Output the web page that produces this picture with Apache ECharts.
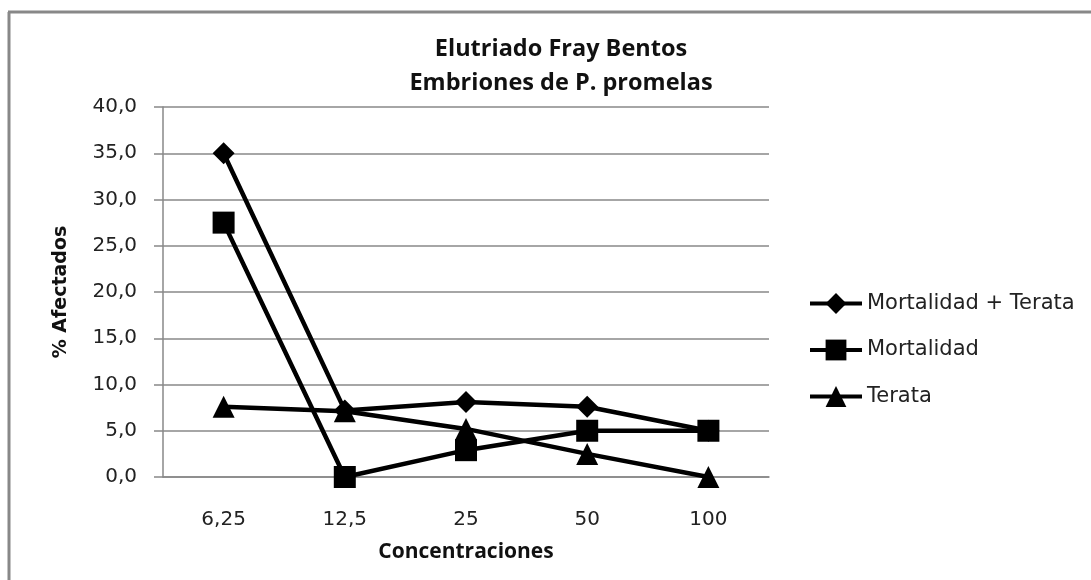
<!DOCTYPE html>
<html>
<head>
<meta charset="utf-8">
<script src="https://cdn.jsdelivr.net/npm/echarts@6/dist/echarts.min.js"></script>
<style>
  html, body { margin: 0; padding: 0; background: #fff; }
  #chart { width: 1091px; height: 580px; }
</style>
</head>
<body>
<div id="chart"></div>
<script>
// concentraciones del elutriado
const categories = ['6,25', '12,5', '25', '50', '100'];
const mortTerata = [35.0, 7.2, 8.1, 7.6, 5.0];
const mortalidad = [27.5, 0.0, 2.9, 5.0, 5.0];
const terata = [7.6, 7.1, 5.2, 2.5, 0.0];

const chart = echarts.init(document.getElementById('chart'));

const lbl = { fontFamily: 'DejaVu Sans', fontSize: 20, color: '#222' };

function serie(name, data, symbol, size) {
  return {
    name: name,
    type: 'line',
    data: data,
    symbol: symbol,
    symbolSize: size,
    color: '#000',
    lineStyle: { color: '#000', width: 4.5 },
    itemStyle: { color: '#000' },
    animation: false
  };
}

const option = {
  backgroundColor: '#fff',
  title: {
    text: 'Elutriado Fray Bentos\nEmbriones de P. promelas',
    left: 556,
    textAlign: 'center',
    top: 27,
    textStyle: {
      fontFamily: 'Open Sans', fontWeight: 'bold', fontSize: 23.5,
      lineHeight: 34, color: '#111'
    }
  },
  graphic: [
    { type: 'line', shape: { x1: 9, y1: 12, x2: 9, y2: 580 }, style: { stroke: '#888', lineWidth: 3 } },
    { type: 'line', shape: { x1: 8, y1: 12, x2: 1091, y2: 12 }, style: { stroke: '#888', lineWidth: 3 } }
  ],
  legend: {
    orient: 'vertical',
    left: 803,
    top: 288,
    itemWidth: 52,
    itemHeight: 26,
    itemGap: 25.5,
    textStyle: Object.assign({}, lbl, { fontSize: 21 }),
    lineStyle: { width: 4 },
    data: ['Mortalidad + Terata', 'Mortalidad', 'Terata']
  },
  grid: { left: 163, right: 322, top: 107, bottom: 103 },
  xAxis: {
    type: 'category',
    data: categories,
    boundaryGap: true,
    name: 'Concentraciones',
    nameLocation: 'middle',
    nameGap: 65,
    nameTextStyle: { fontFamily: 'Open Sans', fontWeight: 'bold', fontSize: 21, color: '#111' },
    axisLine: { lineStyle: { color: '#888', width: 1.5 } },
    axisTick: { show: false },
    axisLabel: Object.assign({ margin: 33 }, lbl)
  },
  yAxis: {
    type: 'value',
    min: 0,
    max: 40,
    interval: 5,
    name: '% Afectados',
    nameLocation: 'middle',
    nameGap: 92,
    nameTextStyle: { fontFamily: 'DejaVu Sans', fontWeight: 'bold', fontSize: 19, color: '#111' },
    axisLine: { show: true, lineStyle: { color: '#888', width: 1.5 } },
    axisTick: { show: true, length: 9, lineStyle: { color: '#888', width: 1.5 } },
    splitLine: { lineStyle: { color: '#888', width: 1.5 } },
    axisLabel: Object.assign({
      margin: 26,
      formatter: v => v.toFixed(1).replace('.', ',')
    }, lbl)
  },
  series: [
    serie('Mortalidad + Terata', mortTerata, 'diamond', 22),
    serie('Mortalidad', mortalidad, 'rect', 22),
    serie('Terata', terata, 'triangle', 22)
  ]
};

chart.setOption(option);
</script>
</body>
</html>
